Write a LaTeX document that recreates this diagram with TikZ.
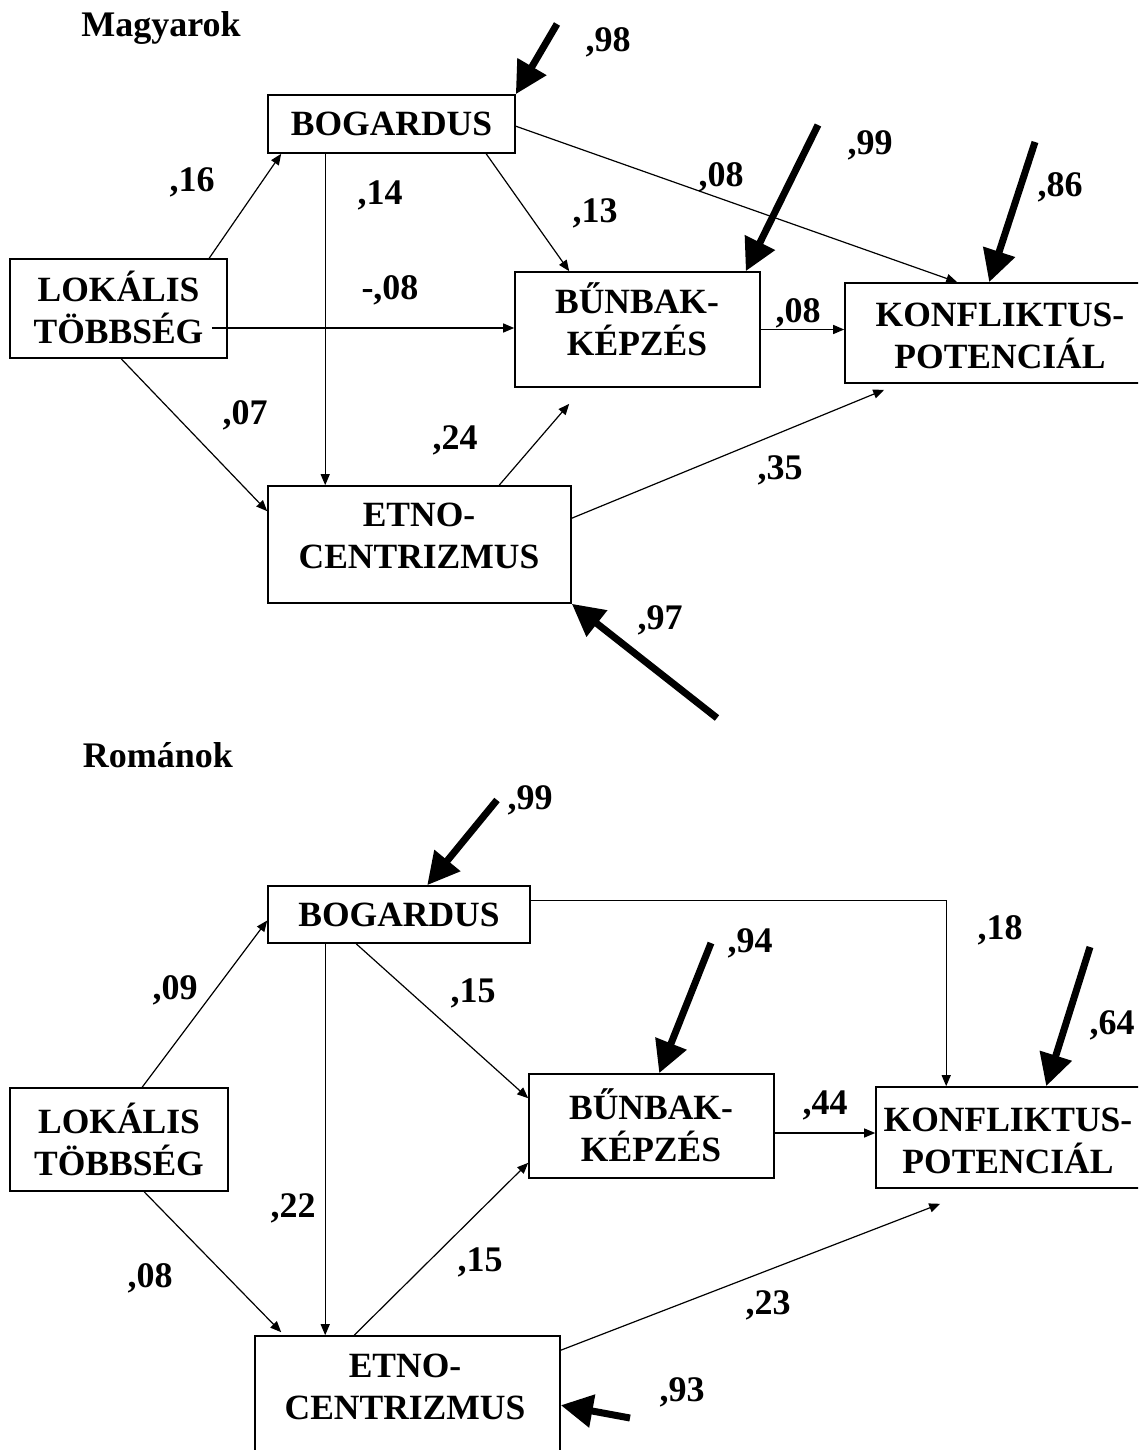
\documentclass[tikz,border=0pt]{standalone}
\usepackage{fontspec}
\setmainfont{Liberation Serif}
\usetikzlibrary{arrows.meta,calc}
\begin{document}
\begin{tikzpicture}[x=1pt,y=-1pt,
  box/.style={draw, line width=1.6pt, rectangle, inner sep=0pt},
  txt/.style={font=\fontsize{35.5}{42}\selectfont\bfseries, align=center, inner sep=0pt},
  lab/.style={font=\fontsize{36}{40}\selectfont\bfseries, inner sep=0pt},
  title/.style={font=\fontsize{36}{40}\selectfont\bfseries, inner sep=0pt},
  thin/.style={line width=1.2pt, -{Triangle[length=11pt,width=9pt]}},
  heavy/.style={line width=7pt, -{Triangle[length=32pt,width=32pt]}}]
\useasboundingbox (0,0) rectangle (1138,1450);
\clip (0,0) rectangle (1138,1450);

% ---------------- Magyarok ----------------
\node[title] (t1) at (161,28) {Magyarok};

\node[box, minimum width=247pt, minimum height=58pt] (bog1) at (391.5,124) {};
\node[txt] (bog1t) at (bog1.center) {BOGARDUS};
\node[box, minimum width=217pt, minimum height=99pt] (lok1) at (118.5,308.5) {};
\node[txt] (lok1t) at (118.5,307) {LOKÁLIS\\TÖBBSÉG};
\node[box, minimum width=245pt, minimum height=115pt] (bun1) at (637.5,329.5) {};
\node[txt] (bun1t) at (637,319) {BŰNBAK-\\KÉPZÉS};
\node[box, minimum width=295pt, minimum height=100pt] (kon1) at (992.5,333) {};
\node[txt] (kon1t) at (1000,336) {KONFLIKTUS-\\POTENCIÁL};
\node[box, minimum width=303pt, minimum height=117pt] (etn1) at (419.5,544.5) {};
\node[txt] (etn1t) at (419,536) {ETNO-\\CENTRIZMUS};

\draw[thin] ($(lok1.north west)+(200,0)$) -- ($(bog1.south west)+(14,0)$);
\draw[thin] ($(lok1.east)+(-16,19.5)$) -- ($(bun1.west)+(0,-1.5)$);
\draw[thin] ($(bog1.south west)+(58,0)$) -- ($(etn1.north west)+(58,0)$);
\draw[thin] ($(bog1.south west)+(219,0)$) -- ($(bun1.north west)+(55,0)$);
\draw[thin] ($(bog1.north east)+(0,32)$) -- ($(kon1.north west)+(113,0)$);
\draw[thin] ($(lok1.south west)+(112,0)$) -- ($(etn1.north west)+(0,26)$);
\draw[thin] ($(etn1.north west)+(232,0)$) -- ($(bun1.south west)+(55,16)$);
\draw[thin] ($(etn1.north east)+(0,33)$) -- ($(kon1.south west)+(40,6)$);
\draw[thin] (bun1.east) -- (bun1.east -| kon1.west);

\coordinate (e1a) at (557,24);
\coordinate (e1b) at (818,125);
\coordinate (e1c) at (1035,142);
\coordinate (e1d) at (717,718);
\draw[heavy] (e1a) -- (bog1.north east);
\draw[heavy] (e1b) -- ($(bun1.north east)+(-15,0)$);
\draw[heavy] (e1c) -- ($(kon1.north west)+(145,0)$);
\draw[heavy] (e1d) -- (etn1.south east);

\node[lab] (l98) at (608,42) {,98};
\node[lab] (l99) at (870,145) {,99};
\node[lab] (l86) at (1060,187) {,86};
\node[lab] (l97) at (660,620) {,97};
\node[lab] (l16) at (192,182) {,16};
\node[lab] (l14) at (380,195) {,14};
\node[lab] (l13) at (595,213) {,13};
\node[lab] (l08a) at (721,177) {,08};
\node[lab] (l08b) at (390,290) {-,08};
\node[lab] (l08c) at (798,313) {,08};
\node[lab] (l07) at (245,415) {,07};
\node[lab] (l24) at (455,440) {,24};
\node[lab] (l35) at (780,470) {,35};

% ---------------- Románok ----------------
\node[title] (t2) at (158,755) {Románok};

\node[box, minimum width=262pt, minimum height=57pt] (bog2) at (399,914.5) {};
\node[txt] (bog2t) at (bog2.center) {BOGARDUS};
\node[box, minimum width=218pt, minimum height=103pt] (lok2) at (119,1139.5) {};
\node[txt] (lok2t) at (119,1139) {LOKÁLIS\\TÖBBSÉG};
\node[box, minimum width=245pt, minimum height=104pt] (bun2) at (651.5,1126) {};
\node[txt] (bun2t) at (651,1125) {BŰNBAK-\\KÉPZÉS};
\node[box, minimum width=264pt, minimum height=101pt] (kon2) at (1008,1137.5) {};
\node[txt] (kon2t) at (1008,1141) {KONFLIKTUS-\\POTENCIÁL};
\node[box, minimum width=305pt, minimum height=135pt] (etn2) at (407.5,1403.5) {};
\node[txt] (etn2t) at (405,1387) {ETNO-\\CENTRIZMUS};

\draw[thin] ($(lok2.north west)+(133,0)$) -- ($(bog2.west)+(0,6)$);
\draw[thin] ($(bog2.south west)+(58,0)$) -- ($(etn2.north west)+(71,0)$);
\draw[thin] ($(bog2.south west)+(89,0)$) -- ($(bun2.north west)+(0,25)$);
\draw[thin] ($(bog2.north east)+(0,15)$) -| ($(kon2.north west)+(71,0)$);
\draw[thin] ($(lok2.south west)+(135,0)$) -- ($(etn2.north west)+(27,-3)$);
\draw[thin] ($(etn2.north west)+(100,0)$) -- ($(bun2.south west)+(0,-16)$);
\draw[thin] ($(etn2.north east)+(0,15)$) -- ($(kon2.south west)+(65,15)$);
\draw[thin] ($(bun2.east)+(0,7)$) -- ($(bun2.east -| kon2.west)+(0,7)$);

\coordinate (e2a) at (497,800);
\coordinate (e2b) at (711,943);
\coordinate (e2c) at (1090,947);
\coordinate (e2d) at (630,1418);
\draw[heavy] (e2a) -- ($(bog2.north west)+(160,0)$);
\draw[heavy] (e2b) -- ($(bun2.north west)+(131,0)$);
\draw[heavy] (e2c) -- ($(kon2.north west)+(171,0)$);
\draw[heavy] (e2d) -- ($(etn2.north east)+(0,70)$);

\node[lab] (m99) at (530,800) {,99};
\node[lab] (m94) at (750,943) {,94};
\node[lab] (m64) at (1112,1025) {,64};
\node[lab] (m93) at (682,1392) {,93};
\node[lab] (m09) at (175,990) {,09};
\node[lab] (m15a) at (473,993) {,15};
\node[lab] (m18) at (1000,930) {,18};
\node[lab] (m44) at (825,1105) {,44};
\node[lab] (m22) at (293,1208) {,22};
\node[lab] (m08) at (150,1278) {,08};
\node[lab] (m15b) at (480,1262) {,15};
\node[lab] (m23) at (768,1305) {,23};
\end{tikzpicture}
\end{document}
